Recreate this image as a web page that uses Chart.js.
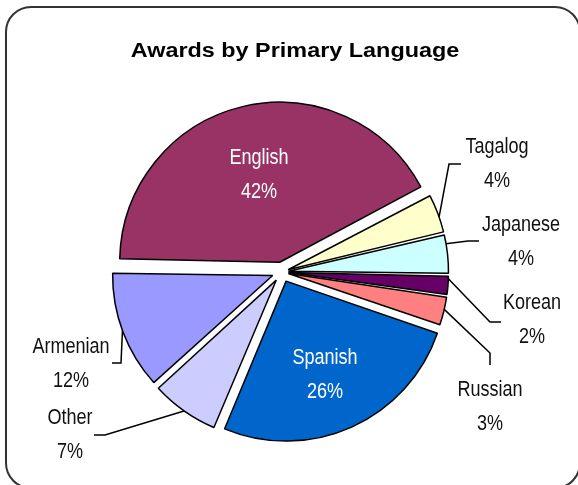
<!DOCTYPE html>
<html>
<head>
<meta charset="utf-8">
<title>Awards by Primary Language</title>
<script src="https://cdn.jsdelivr.net/npm/chart.js@4/dist/chart.umd.min.js"></script>
<style>
body{margin:0;background:#fff;}
#wrap{position:relative;width:578px;height:485px;overflow:hidden;}
#frame{position:absolute;left:5px;top:6px;width:576px;height:483px;border:2px solid #333;border-radius:26px;box-sizing:border-box;}
#chart{position:absolute;left:0;top:0;}
</style>
</head>
<body>
<div id="wrap">
<div id="frame"></div>
<canvas id="chart" width="578" height="485"></canvas>
</div>
<script>
// values
const chartTitle = "Awards by Primary Language";
const languages = ["English","Tagalog","Japanese","Korean","Russian","Spanish","Other","Armenian"];
const shares = [42,4,4,2,3,26,7,12];

const sliceColors = ["#993366","#FFFFCC","#CCFFFF","#660066","#FF8080","#0066CC","#CCCCFF","#9999FF"];
// chart.js moves an arc by offset/4
const sliceOffsets = [40,26,26,26,26,40,40,40];

// where each label sits, and where its leader line bends
const labelLayout = [
{x:259,y:158,color:"#ffffff"},
{x:497,y:147,anchor:0.59,leader:[[449,164],[461,164]]},
{x:521,y:225,anchor:0.24,leader:[[468,241],[479,241]]},
{x:532,y:303,anchor:0.17,leader:[[490,322],[501,322]]},
{x:490,y:390,anchor:0.44,leader:[[490,353],[490,365]]},
{x:325,y:358,color:"#ffffff"},
{x:70,y:418,anchor:0.5,leader:[[105,435],[94,435]]},
{x:71,y:347,anchor:0.51,leader:[[121,363],[112,363]]}
];

const PIE_RADIUS = 160;
const NARROW = 0.82; // squeeze Liberation Sans to look like Arial Narrow

function arcFix(arc){
const c = arc.endAngle-arc.startAngle;
return 1-Math.sin(Math.min(Math.PI,c));
}

// keep every slice the same size after the offset
const evenRadius = {
id:"evenRadius",
afterDatasetsUpdate(chart){
chart.getDatasetMeta(0).data.forEach((arc,i)=>{
arc.outerRadius = PIE_RADIUS-(sliceOffsets[i]/4)*arcFix(arc);
});
}
};

function narrowText(ctx,text,x,y){
ctx.save();
ctx.translate(x,y);
ctx.scale(NARROW,1);
ctx.fillText(text,0,0);
ctx.restore();
}

const sliceLabels = {
id:"sliceLabels",
afterDatasetsDraw(chart){
const ctx = chart.ctx;
const arcs = chart.getDatasetMeta(0).data;
ctx.save();
ctx.lineWidth = 1.5;
ctx.strokeStyle = "#000";
arcs.forEach((arc,i)=>{
const lay = labelLayout[i];
if(!lay.leader) return;
const t = sliceOffsets[i]/4;
const mid = (arc.startAngle+arc.endAngle)/2;
const a = arc.startAngle+(arc.endAngle-arc.startAngle)*lay.anchor;
const r = arc.outerRadius+t*arcFix(arc);
const sx = arc.x+Math.cos(mid)*t+Math.cos(a)*r;
const sy = arc.y+Math.sin(mid)*t+Math.sin(a)*r;
ctx.beginPath();
ctx.moveTo(sx,sy);
lay.leader.forEach(p=>ctx.lineTo(p[0],p[1]));
ctx.stroke();
});
ctx.font = '22px "Liberation Sans", Arial, sans-serif';
ctx.textAlign = "center";
ctx.textBaseline = "middle";
languages.forEach((name,i)=>{
const lay = labelLayout[i];
ctx.fillStyle = lay.color || "#111";
narrowText(ctx,name,lay.x,lay.y);
narrowText(ctx,shares[i]+"%",lay.x,lay.y+34);
});
ctx.restore();
}
};

const drawTitle = {
id:"drawTitle",
afterDraw(chart){
const ctx = chart.ctx;
ctx.save();
ctx.font = 'bold 20px "Liberation Sans", Arial, sans-serif';
ctx.fillStyle = "#000";
ctx.textAlign = "center";
ctx.textBaseline = "alphabetic";
ctx.translate(295,57);
ctx.scale(1.17,1);
ctx.fillText(chartTitle,0,0);
ctx.restore();
}
};

new Chart(document.getElementById("chart"),{
type:"pie",
data:{
labels:languages,
datasets:[{
data:shares,
backgroundColor:sliceColors,
borderColor:"#000",
borderWidth:1.5,
offset:sliceOffsets,
hoverOffset:0,
radius:PIE_RADIUS
}]
},
options:{
responsive:false,
animation:false,
rotation:-89,
layout:{padding:{left:0,right:14,top:59,bottom:0}},
plugins:{
legend:{display:false},
tooltip:{enabled:false},
title:{display:false}
},
events:[]
},
plugins:[evenRadius,sliceLabels,drawTitle]
});
</script>
</body>
</html>
